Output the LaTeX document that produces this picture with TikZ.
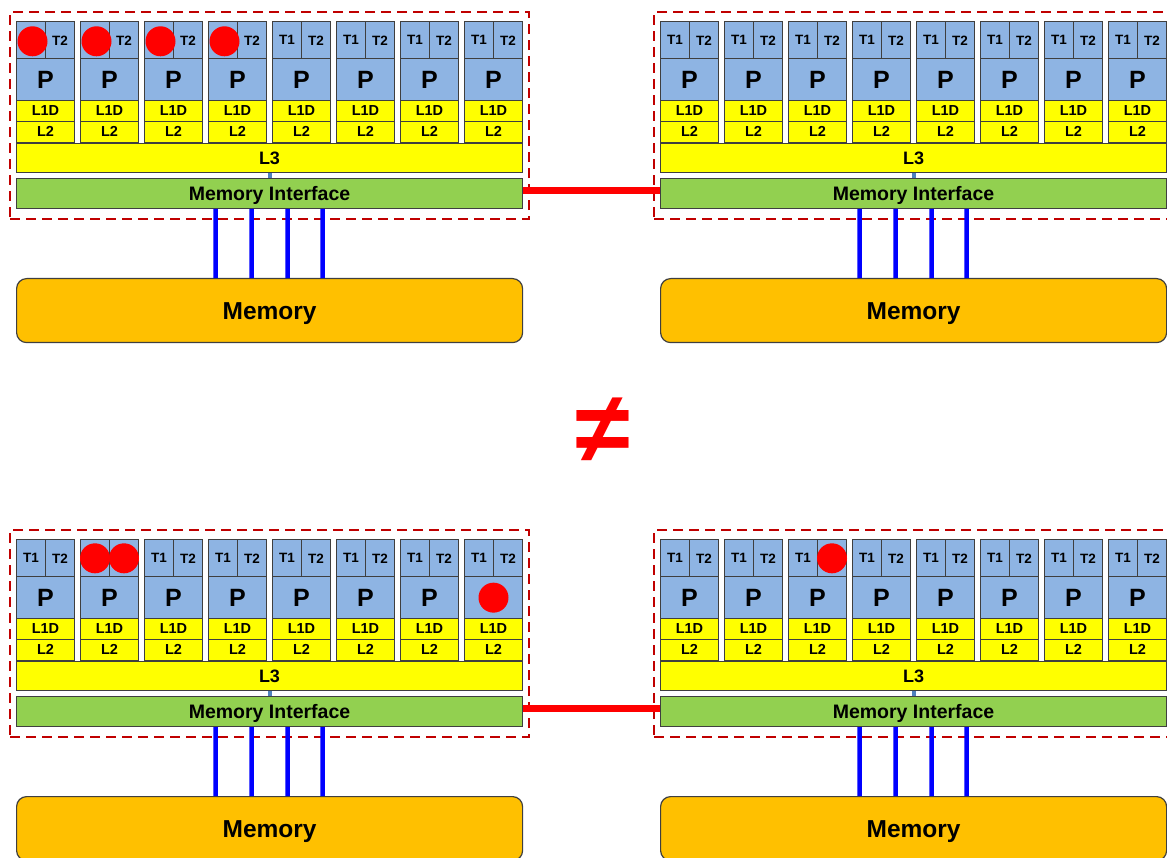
\documentclass[tikz,border=0pt]{standalone}
\usepackage{fontspec}
\setmainfont{Liberation Sans}
\definecolor{coreblue}{HTML}{8EB4E3}
\definecolor{cacheyellow}{HTML}{FFFF00}
\definecolor{migreen}{HTML}{92D050}
\definecolor{memorange}{HTML}{FFC000}
\definecolor{boxgray}{HTML}{3F3F3F}
\definecolor{sockred}{HTML}{C00000}
\definecolor{linkblue}{HTML}{0000FF}
\definecolor{connblue}{HTML}{4F81BD}
\definecolor{dotred}{HTML}{FF0000}
\newcommand\lbl[2]{\ifcsname hide@#1\endcsname\else#2\fi}
\newcommand\hidelbl[1]{\expandafter\def\csname hide@#1\endcsname{}}
\hidelbl{A-1-t1}\hidelbl{A-2-t1}\hidelbl{A-3-t1}\hidelbl{A-4-t1}
\hidelbl{C-2-t1}\hidelbl{C-2-t2}\hidelbl{C-8-p}
\hidelbl{D-3-t2}
\tikzset{
  box/.style={draw=boxgray, line width=1pt, inner sep=0pt, anchor=north west},
  thr/.style={box, fill=coreblue, minimum width=29pt, minimum height=37pt, font=\bfseries\fontsize{13.5}{14}\selectfont},
  proc/.style={box, fill=coreblue, minimum width=58pt, minimum height=41.7pt, font=\bfseries\fontsize{25}{26}\selectfont},
  cache/.style={box, fill=cacheyellow, minimum width=58pt, minimum height=20.8pt, font=\bfseries\fontsize{14.5}{15}\selectfont},
  lthree/.style={box, fill=cacheyellow, minimum width=506pt, minimum height=29pt, font=\bfseries\fontsize{18}{19}\selectfont},
  memif/.style={box, fill=migreen, minimum width=506pt, minimum height=30pt, text depth=0pt, font=\bfseries\fontsize{19.5}{20}\selectfont},
  mem/.style={box, line width=1.2pt, fill=memorange, rounded corners=10pt, minimum width=506pt, minimum height=64pt, text depth=0pt, font=\bfseries\fontsize{24.5}{25}\selectfont},
  sock/.style={draw=sockred, line width=2.2pt, dash pattern=on 10pt off 6pt, inner sep=0pt, anchor=north west, minimum width=519pt, minimum height=207pt},
  conn/.style={draw=connblue, line width=4pt},
  membus/.style={draw=linkblue, line width=4.5pt},
  qpi/.style={draw=dotred, line width=7pt},
  dot/.style={circle, fill=dotred, minimum size=30pt, inner sep=0pt}
}
\newcommand\drawsocket[3]{%
  \begin{scope}[shift={(#2,#3)}]
    \node[sock] (#1-sock) at (9,11) {};
    \foreach \i in {1,...,8}{
      \pgfmathsetmacro\cx{16+(\i-1)*64}
      \node[thr] (#1-\i-t1) at (\cx,21.3) {\lbl{#1-\i-t1}{T1}};
      \node[thr] (#1-\i-t2) at (\cx+29,21.3) {\lbl{#1-\i-t2}{T2}};
      \node[proc] (#1-\i-p) at (\cx,58.3) {\lbl{#1-\i-p}{P}};
      \node[cache] (#1-\i-l1) at (\cx,100) {L1D};
      \node[cache] (#1-\i-l2) at (\cx,120.8) {L2};
    }
    \node[lthree] (#1-l3) at (16,143) {L3};
    \node[memif] (#1-mi) at (16,178) {Memory Interface};
    \node[mem] (#1-mem) at (16,278) {Memory};
    \draw[conn] (#1-l3.south) -- (#1-mi.north);
    \foreach \s in {-54,-18,18,53}{
      \draw[membus] ([xshift=\s pt]#1-mi.south) -- ([xshift=\s pt]#1-mem.north);
    }
  \end{scope}}
\begin{document}
\begin{tikzpicture}[x=1pt,y=-1pt]
  \useasboundingbox (0,0) rectangle (1167,858);
  \drawsocket{A}{0}{0}
  \drawsocket{B}{644}{0}
  \drawsocket{C}{0}{518}
  \drawsocket{D}{644}{518}
  \draw[qpi] ([yshift=3pt]A-mi.east) -- ([yshift=3pt]B-mi.west);
  \draw[qpi] ([yshift=3pt]C-mi.east) -- ([yshift=3pt]D-mi.west);
  % threads placed
  \foreach \c in {1,2,3,4}{
    \node[dot] (A-\c-d) at ([xshift=1.5pt,yshift=-1pt]A-\c-t1.center) {};
  }
  \node[dot] (C-2-d1) at (C-2-t1.center) {};
  \node[dot] (C-2-d2) at (C-2-t2.center) {};
  \node[dot] (C-8-d) at (C-8-p.center) {};
  \node[dot] (D-3-d) at (D-3-t2.center) {};
  \node[text=dotred, inner sep=0pt, font=\bfseries\fontsize{100}{100}\selectfont] (neq) at (603,430) {≠};
\end{tikzpicture}
\end{document}
